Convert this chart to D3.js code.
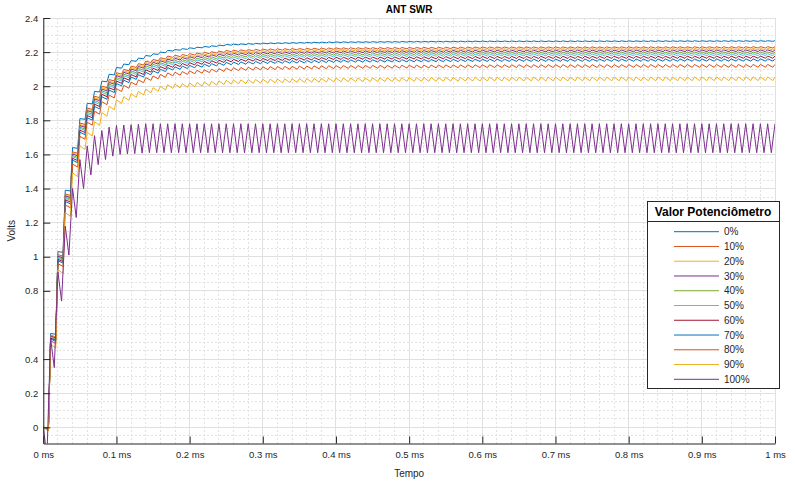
<!DOCTYPE html>
<html lang="pt">
<head>
<meta charset="UTF-8">
<title>ANT SWR</title>
<script src="https://d3js.org/d3.v7.min.js"></script>
<style>
body {
    margin: 0;
    background: #fff;
    font-family: "Liberation Sans", Arial, sans-serif;
}
svg { display: block; }
.axis text { fill: #262626; font-size: 9.5px; font-family: "Liberation Sans", Arial, sans-serif; }
</style>
</head>
<body>
<svg width="796" height="483"></svg>
<script>
const width = 796, height = 483;
const margin = {top: 18, right: 21, bottom: 39.5, left: 43.3};

// legenda / categorias
const legendLabels = ["0%", "10%", "20%", "30%", "40%", "50%", "60%", "70%", "80%", "90%", "100%"];

// instantes (ms) onde o envelope de pico foi lido
const envTimes = [0, 0.01, 0.02, 0.03, 0.04, 0.05, 0.06, 0.07, 0.08, 0.09, 0.10, 0.12, 0.14, 0.17, 0.20, 0.25, 0.30, 0.40, 0.60, 1.00];

// picos (V) de cada curva nesses instantes
const v0   = [0, 0.550, 1.030, 1.390, 1.640, 1.810, 1.900, 1.970, 2.030, 2.070, 2.110, 2.150, 2.180, 2.210, 2.225, 2.245, 2.253, 2.260, 2.265, 2.267];
const v10  = [0, 0.539, 1.012, 1.368, 1.615, 1.784, 1.872, 1.941, 2.000, 2.039, 2.079, 2.118, 2.147, 2.177, 2.191, 2.210, 2.218, 2.225, 2.230, 2.232];
const v20  = [0, 0.536, 1.007, 1.362, 1.608, 1.776, 1.864, 1.932, 1.991, 2.030, 2.070, 2.109, 2.138, 2.167, 2.181, 2.200, 2.208, 2.215, 2.220, 2.222];
const v30  = [0, 0.534, 1.003, 1.357, 1.602, 1.769, 1.857, 1.925, 1.983, 2.022, 2.062, 2.101, 2.130, 2.159, 2.173, 2.192, 2.199, 2.206, 2.211, 2.213];
const v40  = [0, 0.530, 0.997, 1.349, 1.594, 1.760, 1.847, 1.915, 1.973, 2.012, 2.051, 2.090, 2.119, 2.147, 2.161, 2.180, 2.187, 2.194, 2.199, 2.201];
const v50  = [0, 0.527, 0.992, 1.343, 1.587, 1.753, 1.839, 1.906, 1.964, 2.003, 2.042, 2.081, 2.109, 2.138, 2.151, 2.170, 2.177, 2.184, 2.189, 2.191];
const v60  = [0, 0.523, 0.985, 1.334, 1.577, 1.742, 1.828, 1.894, 1.952, 1.991, 2.030, 2.068, 2.096, 2.124, 2.138, 2.156, 2.163, 2.170, 2.175, 2.177];
const v70  = [0, 0.518, 0.977, 1.324, 1.566, 1.730, 1.815, 1.881, 1.938, 1.977, 2.016, 2.054, 2.081, 2.109, 2.122, 2.140, 2.147, 2.154, 2.159, 2.161];
const v80  = [0, 0.508, 0.960, 1.304, 1.543, 1.706, 1.789, 1.853, 1.909, 1.948, 1.986, 2.024, 2.051, 2.078, 2.090, 2.107, 2.114, 2.121, 2.126, 2.128];
const v90  = [0, 0.486, 0.924, 1.259, 1.492, 1.651, 1.730, 1.792, 1.846, 1.883, 1.921, 1.957, 1.983, 2.009, 2.019, 2.035, 2.041, 2.048, 2.053, 2.055];
const v100 = [0, 0.520, 0.910, 1.180, 1.400, 1.570, 1.650, 1.710, 1.740, 1.760, 1.770, 1.775, 1.780, 1.780, 1.780, 1.780, 1.780, 1.780, 1.780, 1.780];
const peakSeries = [v0, v10, v20, v30, v40, v50, v60, v70, v80, v90, v100];

// queda entre pulsos (V) e tempo de subida (ms) de cada curva
const rippleDepth = [0.004, 0.008, 0.009, 0.010, 0.011, 0.012, 0.013, 0.014, 0.017, 0.022, 0.170];
const riseWidth   = [0.003, 0.003, 0.003, 0.003, 0.003, 0.003, 0.003, 0.003, 0.003, 0.003, 0.005];
const pulsePeriod = 0.01;   // ms
const tMax = 1.0;

// eixos
const xTicks = [0, 0.1, 0.2, 0.3, 0.4, 0.5, 0.6, 0.7, 0.8, 0.9, 1];
const yTicks = [0, 0.2, 0.4, 0.8, 1, 1.2, 1.4, 1.6, 1.8, 2, 2.2, 2.4];

const lineColors = ["#0072BD", "#D95319", "#EDB120", "#7E2F8E", "#77AC30", "#4DBEEE",
                    "#A2142F", "#0072BD", "#D95319", "#EDB120", "#7E2F8E"];

const svg = d3.select("svg");
const pw = width - margin.left - margin.right;
const ph = height - margin.top - margin.bottom;

const x = d3.scaleLinear().domain([0, 1]).range([margin.left, margin.left + pw]);
const y = d3.scaleLinear().domain([-0.095, 2.4]).range([margin.top + ph, margin.top]);

// grade secundária (pontilhada)
const xMinor = d3.range(0, 1.0001, 0.02).filter(v => Math.abs(v * 10 - Math.round(v * 10)) > 1e-6);
const yMinor = d3.range(-0.05, 2.4001, 0.05).filter(v => !yTicks.some(t => Math.abs(t - v) < 1e-6));

const grid = svg.append("g");
grid.selectAll(".xm").data(xMinor).enter().append("line")
    .attr("x1", d => x(d)).attr("x2", d => x(d))
    .attr("y1", y.range()[0]).attr("y2", y.range()[1])
    .attr("stroke", "#e2e2e2").attr("stroke-dasharray", "2,2").attr("shape-rendering", "crispEdges");
grid.selectAll(".ym").data(yMinor).enter().append("line")
    .attr("x1", x.range()[0]).attr("x2", x.range()[1])
    .attr("y1", d => y(d)).attr("y2", d => y(d))
    .attr("stroke", "#e2e2e2").attr("stroke-dasharray", "2,2").attr("shape-rendering", "crispEdges");
// grade principal
grid.selectAll(".xM").data(xTicks).enter().append("line")
    .attr("x1", d => x(d)).attr("x2", d => x(d))
    .attr("y1", y.range()[0]).attr("y2", y.range()[1])
    .attr("stroke", "#e0e0e0").attr("shape-rendering", "crispEdges");
grid.selectAll(".yM").data(yTicks).enter().append("line")
    .attr("x1", x.range()[0]).attr("x2", x.range()[1])
    .attr("y1", d => y(d)).attr("y2", d => y(d))
    .attr("stroke", "#e0e0e0").attr("shape-rendering", "crispEdges");

// curvas
svg.append("clipPath").attr("id", "plot-clip")
    .append("rect")
    .attr("x", margin.left).attr("y", margin.top)
    .attr("width", pw).attr("height", ph);

function buildWave(peaks, depth, rise) {
    const env = d3.scaleLinear().domain(envTimes).range(peaks);
    const pts = [[0, peaks[0]]];
    const n = Math.round(tMax / pulsePeriod);
    for (let k = 1; k <= n; k++) {
        const tp = k * pulsePeriod;
        pts.push([tp - rise, env(tp - pulsePeriod) - depth]);
        pts.push([tp, env(tp)]);
    }
    return pts;
}

const line = d3.line().x(d => x(d[0])).y(d => y(d[1]));

svg.append("g").attr("clip-path", "url(#plot-clip)")
    .selectAll("path")
    .data(peakSeries.map((p, i) => buildWave(p, rippleDepth[i], riseWidth[i])))
    .enter().append("path")
    .attr("d", line)
    .attr("fill", "none")
    .attr("stroke", (d, i) => lineColors[i])
    .attr("stroke-width", 1)
    .attr("stroke-linejoin", "round");

// eixos
const xAxis = d3.axisBottom(x).tickValues(xTicks)
    .tickFormat(d => d3.format("~g")(d) + " ms")
    .tickSizeInner(-7).tickSizeOuter(0).tickPadding(8);
const yAxis = d3.axisLeft(y).tickValues(yTicks)
    .tickFormat(d3.format("~g"))
    .tickSizeInner(-7).tickSizeOuter(0).tickPadding(5);

const gx = svg.append("g").attr("class", "axis")
    .attr("transform", `translate(0,${margin.top + ph})`).call(xAxis);
const gy = svg.append("g").attr("class", "axis")
    .attr("transform", `translate(${margin.left},0)`).call(yAxis);
[gx, gy].forEach(g => {
    g.selectAll("line").attr("stroke", "#262626");
    g.select(".domain").attr("stroke", "#262626");
});

// títulos
svg.append("text")
    .attr("x", x(0.5)).attr("y", 13)
    .attr("text-anchor", "middle")
    .style("font-size", "10px").style("font-weight", "bold").style("fill", "#000")
    .text("ANT SWR");

svg.append("text")
    .attr("x", x(0.5)).attr("y", 477)
    .attr("text-anchor", "middle")
    .style("font-size", "10px").style("fill", "#262626")
    .text("Tempo");

svg.append("text")
    .attr("transform", `translate(15,${margin.top + ph / 2}) rotate(-90)`)
    .attr("text-anchor", "middle")
    .style("font-size", "10px").style("fill", "#262626")
    .text("Volts");

// legenda
const lg = svg.append("g").attr("transform", "translate(647,201)");
const lgW = 132, lgH = 187, rowH = 14.76;

lg.append("rect")
    .attr("width", lgW).attr("height", lgH)
    .attr("fill", "#fff").attr("stroke", "#262626").attr("stroke-width", 1)
    .attr("shape-rendering", "crispEdges");
lg.append("line")
    .attr("x1", 0).attr("x2", lgW).attr("y1", 20).attr("y2", 20)
    .attr("stroke", "#262626").attr("shape-rendering", "crispEdges");
lg.append("text")
    .attr("x", lgW / 2).attr("y", 15)
    .attr("text-anchor", "middle")
    .style("font-size", "12px").style("font-weight", "bold").style("fill", "#000")
    .text("Valor Potenciômetro");

const rows = lg.selectAll(".row").data(legendLabels).enter().append("g")
    .attr("transform", (d, i) => `translate(0,${30.7 + i * rowH})`);
rows.append("line")
    .attr("x1", 27).attr("x2", 72)
    .attr("stroke", (d, i) => lineColors[i]).attr("stroke-width", 1);
rows.append("text")
    .attr("x", 77).attr("y", 3.6)
    .style("font-size", "10px").style("fill", "#262626")
    .text(d => d);
</script>
</body>
</html>
